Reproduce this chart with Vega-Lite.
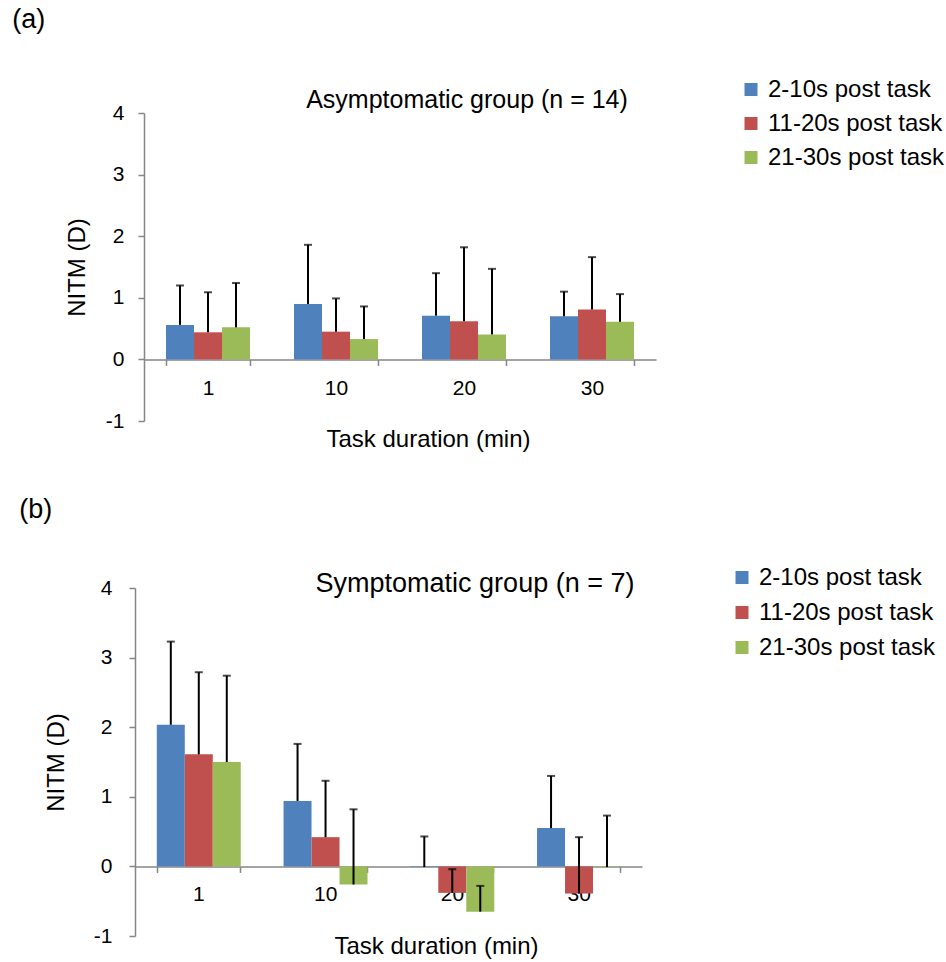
{
  "$schema": "https://vega.github.io/schema/vega-lite/v6.json",
  "padding": {"left": 12, "top": 5, "right": 1, "bottom": 5},
  "background": "white",
  "config": {
    "view": {"stroke": null},
    "font": "Liberation Sans",
    "axis": {"grid": false, "domainColor": "#868686", "tickColor": "#868686", "tickSize": 6, "domainWidth": 1.5, "tickWidth": 1.5, "labelColor": "black", "titleColor": "black", "labelFont": "Liberation Sans", "titleFont": "Liberation Sans", "labelFontSize": 21, "titleFontSize": 24, "titleFontWeight": "normal"},
    "legend": {"orient": "none", "symbolType": "square", "symbolSize": 169, "symbolStrokeWidth": 0, "labelFont": "Liberation Sans", "labelFontSize": 24, "labelColor": "black", "labelOffset": 5, "rowPadding": 10, "labelLimit": 400},
    "title": {"font": "Liberation Sans", "fontWeight": "normal", "color": "black"}
  },
  "datasets": {
    "a": [
      {"duration": "1", "period": "2-10s post task", "value": 0.56, "upper": 1.20},
      {"duration": "1", "period": "11-20s post task", "value": 0.44, "upper": 1.09},
      {"duration": "1", "period": "21-30s post task", "value": 0.52, "upper": 1.24},
      {"duration": "10", "period": "2-10s post task", "value": 0.90, "upper": 1.86},
      {"duration": "10", "period": "11-20s post task", "value": 0.45, "upper": 0.99},
      {"duration": "10", "period": "21-30s post task", "value": 0.33, "upper": 0.86},
      {"duration": "20", "period": "2-10s post task", "value": 0.71, "upper": 1.40},
      {"duration": "20", "period": "11-20s post task", "value": 0.62, "upper": 1.82},
      {"duration": "20", "period": "21-30s post task", "value": 0.405, "upper": 1.47},
      {"duration": "30", "period": "2-10s post task", "value": 0.70, "upper": 1.10},
      {"duration": "30", "period": "11-20s post task", "value": 0.81, "upper": 1.66},
      {"duration": "30", "period": "21-30s post task", "value": 0.61, "upper": 1.06}
    ],
    "b": [
      {"duration": "1", "period": "2-10s post task", "value": 2.035, "upper": 3.23},
      {"duration": "1", "period": "11-20s post task", "value": 1.61, "upper": 2.79},
      {"duration": "1", "period": "21-30s post task", "value": 1.50, "upper": 2.74},
      {"duration": "10", "period": "2-10s post task", "value": 0.94, "upper": 1.76},
      {"duration": "10", "period": "11-20s post task", "value": 0.42, "upper": 1.23},
      {"duration": "10", "period": "21-30s post task", "value": -0.26, "upper": 0.82},
      {"duration": "20", "period": "2-10s post task", "value": -0.01, "upper": 0.43},
      {"duration": "20", "period": "11-20s post task", "value": -0.38, "upper": -0.04},
      {"duration": "20", "period": "21-30s post task", "value": -0.65, "upper": -0.28},
      {"duration": "30", "period": "2-10s post task", "value": 0.55, "upper": 1.30},
      {"duration": "30", "period": "11-20s post task", "value": -0.39, "upper": 0.42},
      {"duration": "30", "period": "21-30s post task", "value": -0.01, "upper": 0.73}
    ]
  },
  "columns": 1,
  "align": "none",
  "center": true,
  "spacing": 43,
  "resolve": {"legend": {"color": "independent"}, "scale": {"color": "independent"}},
  "concat": [
    {
      "title": {"text": "(a)", "anchor": "start", "fontSize": 27, "dx": -53, "offset": 44, "baseline": "top"},
      "vconcat": [
        {
          "width": 512,
          "height": 308,
          "title": {"text": "Asymptomatic group (n = 14)", "fontSize": 25, "dx": 67, "dy": 31, "offset": 0, "baseline": "alphabetic"},
          "data": {"name": "a"},
          "encoding": {
            "x": {"field": "duration", "type": "nominal", "sort": ["1", "10", "20", "30"], "scale": {"paddingInner": 0.344, "paddingOuter": 0.172},
              "axis": {"title": "Task duration (min)", "labelAngle": 0, "offset": -61.6, "tickBand": "extent", "labelPadding": 12, "titlePadding": 29, "titleX": 284}},
            "xOffset": {"field": "period", "type": "nominal", "sort": ["2-10s post task", "11-20s post task", "21-30s post task"], "scale": {"paddingInner": 0, "paddingOuter": 0}}
          },
          "layer": [
            {
              "mark": {"type": "bar"},
              "encoding": {
                "y": {"field": "value", "type": "quantitative", "scale": {"domain": [-1, 4], "nice": false, "zero": false},
                  "axis": {"title": "NITM (D)", "values": [-1, 0, 1, 2, 3, 4], "labelExpr": "'' + datum.value", "labelPadding": 14, "titlePadding": 16}},
                "color": {"field": "period", "type": "nominal", "sort": ["2-10s post task", "11-20s post task", "21-30s post task"],
                  "scale": {"domain": ["2-10s post task", "11-20s post task", "21-30s post task"], "range": ["#4F81BD", "#C0504D", "#9BBB59"]},
                  "legend": {"title": null, "legendX": 595, "legendY": -35.5}}
              }
            },
            {
              "mark": {"type": "rule", "color": "black", "strokeWidth": 2},
              "encoding": {"y": {"field": "value", "type": "quantitative"}, "y2": {"field": "upper"}}
            },
            {
              "mark": {"type": "tick", "color": "black", "thickness": 2, "size": 8},
              "encoding": {"y": {"field": "upper", "type": "quantitative"}}
            }
          ]
        }
      ]
    },
    {
      "title": {"text": "(b)", "anchor": "start", "fontSize": 27, "dx": -25, "offset": 42, "baseline": "top"},
      "vconcat": [
        {
          "width": 498,
          "height": 348,
          "title": {"text": "Symptomatic group (n = 7)", "fontSize": 27, "dx": 82, "dy": 42, "offset": 0, "baseline": "alphabetic"},
          "data": {"name": "b"},
          "encoding": {
            "x": {"field": "duration", "type": "nominal", "sort": ["1", "10", "20", "30"], "scale": {"range": [-9, 498], "paddingInner": 0.344, "paddingOuter": 0.172},
              "axis": {"title": "Task duration (min)", "labelAngle": 0, "offset": -69.6, "tickBand": "extent", "labelPadding": 11, "titlePadding": 30, "titleX": 292}},
            "xOffset": {"field": "period", "type": "nominal", "sort": ["2-10s post task", "11-20s post task", "21-30s post task"], "scale": {"paddingInner": 0, "paddingOuter": 0}}
          },
          "layer": [
            {
              "mark": {"type": "bar"},
              "encoding": {
                "y": {"field": "value", "type": "quantitative", "scale": {"domain": [-1, 4], "nice": false, "zero": false},
                  "axis": {"title": "NITM (D)", "values": [-1, 0, 1, 2, 3, 4], "labelExpr": "'' + datum.value", "labelPadding": 17, "titlePadding": 25, "offset": 9}},
                "color": {"field": "period", "type": "nominal", "sort": ["2-10s post task", "11-20s post task", "21-30s post task"],
                  "scale": {"domain": ["2-10s post task", "11-20s post task", "21-30s post task"], "range": ["#4F81BD", "#C0504D", "#9BBB59"]},
                  "legend": {"title": null, "legendX": 586, "legendY": -22.5, "rowPadding": 11}}
              }
            },
            {
              "mark": {"type": "rule", "color": "black", "strokeWidth": 2},
              "encoding": {"y": {"field": "value", "type": "quantitative"}, "y2": {"field": "upper"}}
            },
            {
              "mark": {"type": "tick", "color": "black", "thickness": 2, "size": 8},
              "encoding": {"y": {"field": "upper", "type": "quantitative"}}
            }
          ]
        }
      ]
    }
  ]
}
